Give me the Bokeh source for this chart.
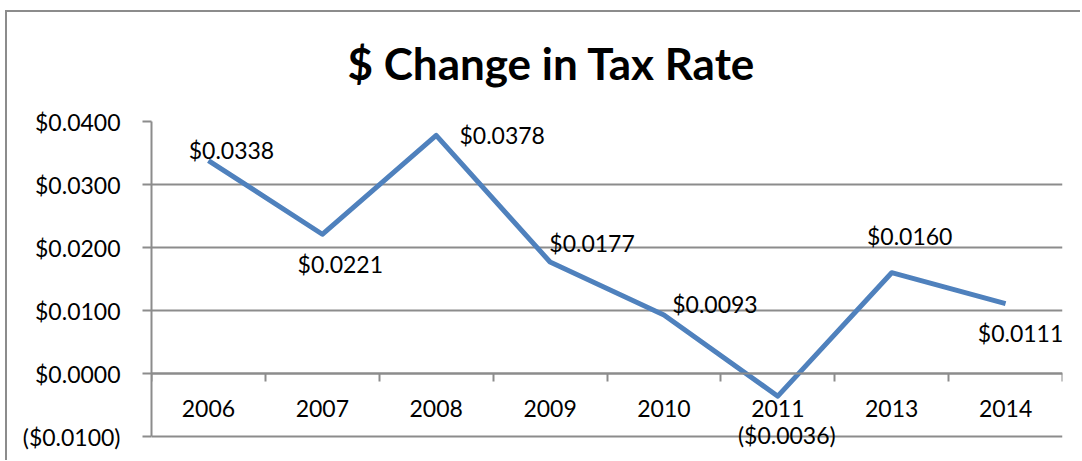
from bokeh.plotting import figure
from bokeh.models import FixedTicker, CustomJSTickFormatter, Range1d, ColumnDataSource, LabelSet
from bokeh.embed import file_html
from bokeh.resources import INLINE
from bokeh.core.properties import value

# ---- data ----
years = ["2006", "2007", "2008", "2009", "2010", "2011", "2013", "2014"]
change = [0.0338, 0.0221, 0.0378, 0.0177, 0.0093, -0.0036, 0.0160, 0.0111]
y_ticks = [-0.01, 0.0, 0.01, 0.02, 0.03, 0.04]
title_text = "$ Change in Tax Rate"

# label placement (screen px offsets from each point, y up; styling only)
label_dx = [23, 18, 66, 42, 51, 9, 18, 15]
label_dy = [11, -30, 0, 19, 11, -39, 37, -29]


def money(v):
    return "(${:.4f})".format(abs(v)) if v < 0 else "${:.4f}".format(v)


FONT = "Lato"
GRID = "#8c8c8c"
FS = "23px"

# layout in pixels: axis span 315 px tall, plus 14 px of free room below it
AXIS_PX = 315
EXTRA_PX = 14
span = y_ticks[-1] - y_ticks[0]
y_lo = y_ticks[0] - span * EXTRA_PX / AXIS_PX

xs = [i + 0.5 for i in range(len(years))]
src = ColumnDataSource(dict(
    x=xs, y=change, lab=[money(v) for v in change], dx=label_dx, dy=label_dy,
))

p = figure(
    width=1080, height=460, output_backend="svg", toolbar_location=None,
    x_range=Range1d(0, len(years)), y_range=Range1d(y_lo, y_ticks[-1]),
    min_border_left=151, min_border_right=18, min_border_top=121,
    min_border_bottom=460 - 121 - AXIS_PX - EXTRA_PX,
)
p.outline_line_color = None
p.background_fill_color = "white"
p.border_fill_color = None
p.styles = {"box-shadow": "inset 5px 10px 0 0 white, inset 7px 12px 0 0 #8c8c8c"}

# title
p.title.text = title_text
p.title.align = "left"
p.title.offset = 196
p.title.text_font = FONT
p.title.text_font_size = "44px"
p.title.text_font_style = "bold"
p.title.text_color = "black"
p.title.standoff = 66

# y axis
p.yaxis.ticker = FixedTicker(ticks=y_ticks)
p.yaxis.bounds = (y_ticks[0], y_ticks[-1])
p.yaxis.formatter = CustomJSTickFormatter(code="""
    const a = Math.abs(tick).toFixed(4);
    return tick < -1e-12 ? "($" + a + ")" : "$" + a;
""")
p.yaxis.axis_line_color = GRID
p.yaxis.axis_line_width = 2
p.yaxis.major_tick_line_color = GRID
p.yaxis.major_tick_line_width = 2
p.yaxis.major_tick_out = 9
p.yaxis.major_tick_in = 0
p.yaxis.minor_tick_line_color = None
p.yaxis.major_label_standoff = 22
p.yaxis.major_label_text_font = FONT
p.yaxis.major_label_text_font_size = FS
p.yaxis.major_label_text_color = "black"

# x axis crossing at zero
p.xaxis.fixed_location = 0
p.xaxis.ticker = FixedTicker(ticks=xs, minor_ticks=list(range(len(years) + 1)))
p.xaxis.formatter = CustomJSTickFormatter(args=dict(cats=years), code="""
    return cats[Math.floor(tick)];
""")
p.xaxis.axis_line_color = GRID
p.xaxis.axis_line_width = 2
p.xaxis.major_tick_out = 0
p.xaxis.major_tick_in = 0
p.xaxis.minor_tick_out = 8
p.xaxis.minor_tick_in = 0
p.xaxis.minor_tick_line_color = GRID
p.xaxis.minor_tick_line_width = 2
p.xaxis.major_label_standoff = 18
p.xaxis.major_label_text_font = FONT
p.xaxis.major_label_text_font_size = FS
p.xaxis.major_label_text_color = "black"

# grid
p.xgrid.grid_line_color = None
p.ygrid.ticker = FixedTicker(ticks=y_ticks)
p.ygrid.grid_line_color = GRID
p.ygrid.grid_line_width = 2

# series
p.line("x", "y", source=src, line_color="#4F81BD", line_width=5, line_join="round")
labels = LabelSet(x="x", y="y", text="lab", source=src, x_offset="dx", y_offset="dy",
                  text_align="center", text_baseline="middle", text_font=value(FONT),
                  text_font_size=value(FS), text_color="black")
p.add_layout(labels)

open("out.html", "w").write(file_html(p, INLINE))
